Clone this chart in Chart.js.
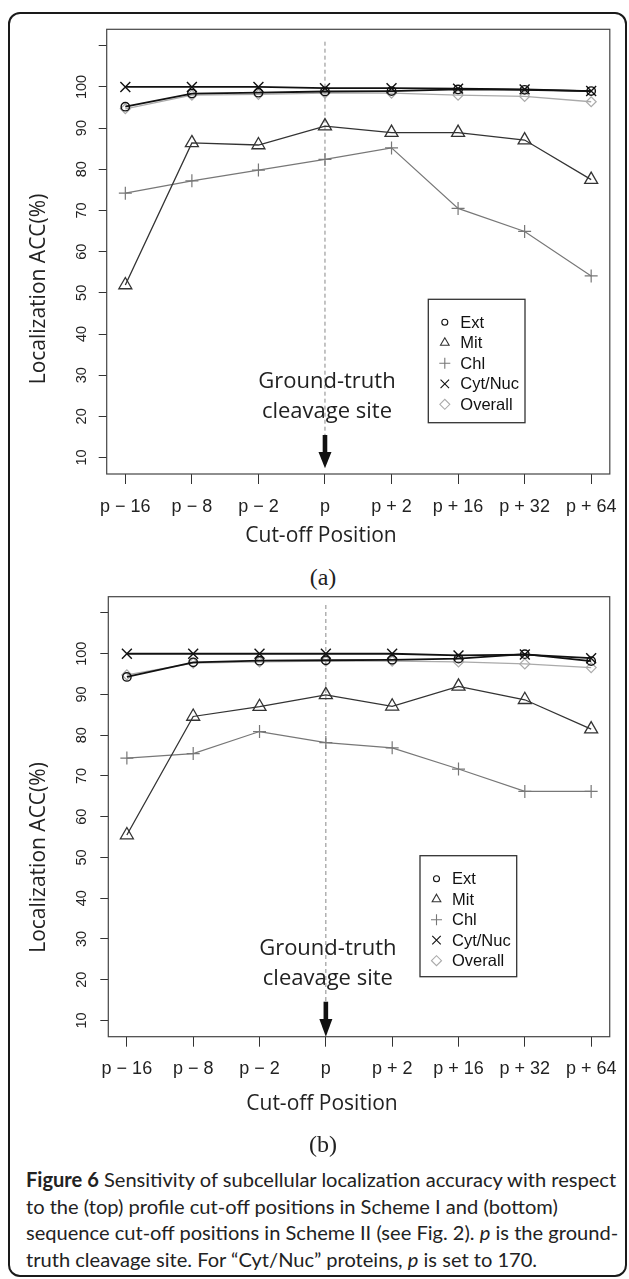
<!DOCTYPE html>
<html>
<head>
<meta charset="utf-8">
<title>Figure 6</title>
<script src="https://cdn.jsdelivr.net/npm/chart.js@4.4.1/dist/chart.umd.min.js"></script>
<style>
  html, body { margin: 0; padding: 0; background: #fff; }
  body { width: 629px; height: 1279px; position: relative; overflow: hidden; }
  #frame { position: absolute; left: 8px; top: 12px; width: 615px; height: 1261px;
           border: 2px solid #1a1a1a; border-radius: 12px; }
  canvas { position: absolute; left: 0; }
  #chartA { top: 0; }
  #chartB { top: 575px; }
  .panel { position: absolute; left: 293px; width: 60px; text-align: center;
           font-family: "Liberation Serif", "Times New Roman", serif; font-size: 24px;
           line-height: 28px; color: #222; }
  #caption { position: absolute; left: 26px; top: 1166px; width: 600px;
             font-family: Lato, "Open Sans", sans-serif; font-size: 18px;
             line-height: 26.7px; color: #222; }
  #caption .cl { white-space: nowrap; }
  #caption .cl span { display: inline-block; }
</style>
</head>
<body>
<div id="frame"></div>
<canvas id="chartA" width="629" height="560"></canvas>
<div class="panel" style="top:563px">(a)</div>
<canvas id="chartB" width="629" height="590"></canvas>
<div class="panel" style="top:1130px">(b)</div>
<div id="caption">
  <div class="cl"><span id="firstLine"><b>Figure 6</b> Sensitivity of subcellular localization accuracy with respect</span></div>
  <div class="cl">to the (top) profile cut-off positions in Scheme I and (bottom)</div>
  <div class="cl">sequence cut-off positions in Scheme II (see Fig. 2). <i>p</i> is the ground-</div>
  <div class="cl">truth cleavage site. For “Cyt/Nuc” proteins, <i>p</i> is set to 170.</div>
</div>

<script>
// cut-off positions on the x axis
const positions = ['p − 16', 'p − 8', 'p − 2', 'p', 'p + 2', 'p + 16', 'p + 32', 'p + 64'];
const yTickValues = [10, 20, 30, 40, 50, 60, 70, 80, 90, 100, 110];
const yTickLabels = ['10', '20', '30', '40', '50', '60', '70', '80', '90', '100', ''];
const seriesNames = ['Ext', 'Mit', 'Chl', 'Cyt/Nuc', 'Overall'];

// (a) profile cut-off, Scheme I
const extA     = [95.2, 98.4, 98.6, 98.9, 99.0, 99.4, 99.3, 99.0];
const mitA     = [51.9, 86.4, 85.9, 90.5, 88.9, 88.9, 87.1, 77.5];
const chlA     = [74.2, 77.2, 79.8, 82.4, 85.2, 70.5, 64.9, 54.1];
const cytA     = [100, 100, 100, 99.7, 99.7, 99.6, 99.4, 99.0];
const overallA = [94.7, 98.0, 98.2, 98.5, 98.5, 98.0, 97.7, 96.4];

// (b) sequence cut-off, Scheme II
const extB     = [94.3, 97.9, 98.3, 98.4, 98.5, 98.8, 99.9, 98.2];
const mitB     = [55.5, 84.6, 87.0, 89.9, 87.1, 92.0, 88.7, 81.5];
const chlB     = [74.4, 75.5, 80.9, 78.2, 76.9, 71.7, 66.2, 66.2];
const cytB     = [100, 100, 100, 100, 100, 99.6, 99.8, 98.9];
const overallB = [94.8, 97.7, 98.0, 98.2, 98.2, 98.0, 97.5, 96.6];

const seriesStyles = [
    { color: '#111', width: 1.8, point: 'circle',   radius: 4.2, pw: 1.4, legendRadius: 3 },
    { color: '#333', width: 1.3, point: 'triangle', radius: 7.5, pw: 1.3, legendRadius: 5 },
    { color: '#777', width: 1.2, point: 'cross',    radius: 6.5, pw: 1.2, legendRadius: 5.5 },
    { color: '#111', width: 1.8, point: 'crossRot', radius: 7,   pw: 1.4, legendRadius: 6 },
    { color: '#aaa', width: 1.3, point: 'rectRot',  radius: 5,   pw: 1.2, legendRadius: 5 }
];

const sansR = '"Liberation Sans", Arial, sans-serif';
const sansO = '"Open Sans", sans-serif';

// extra drawing: box, dashed marker line, rotated labels, arrow, legend
const figurePlugin = {
    id: 'figureExtras',
    beforeDatasetsDraw(chart, args, o) {
        const { ctx, scales: { x } } = chart;
        const px = x.getPixelForValue(3);
        ctx.save();
        ctx.strokeStyle = '#888';
        ctx.lineWidth = 1;
        ctx.setLineDash([4, 3]);
        ctx.beginPath();
        ctx.moveTo(px, o.dashTop);
        ctx.lineTo(px, o.arrowTop);
        ctx.stroke();
        ctx.restore();
    },
    afterDraw(chart, args, o) {
        const { ctx, chartArea: a, scales: { x, y } } = chart;
        ctx.save();

        // plot box
        ctx.strokeStyle = '#444';
        ctx.lineWidth = 1.2;
        ctx.strokeRect(a.left, a.top, a.right - a.left, a.bottom - a.top);

        // y tick labels, parallel to the axis
        ctx.fillStyle = '#222';
        ctx.font = '14.5px ' + sansR;
        ctx.textAlign = 'center';
        ctx.textBaseline = 'middle';
        yTickValues.forEach((v, i) => {
            if (!yTickLabels[i]) return;
            ctx.save();
            ctx.translate(o.yTickX, y.getPixelForValue(v));
            ctx.rotate(-Math.PI / 2);
            ctx.fillText(yTickLabels[i], 0, 0);
            ctx.restore();
        });

        // axis titles
        ctx.font = '21px ' + sansO;
        ctx.save();
        ctx.translate(o.yTitleX, o.yTitleY);
        ctx.rotate(-Math.PI / 2);
        ctx.fillText('Localization ACC(%)', 0, 0);
        ctx.restore();
        ctx.fillText('Cut-off Position', o.xTitleX, o.xTitleY);

        // cleavage site note and arrow
        const px = x.getPixelForValue(3);
        ctx.font = '22px ' + sansO;
        ctx.textBaseline = 'alphabetic';
        ctx.fillText('Ground-truth', px + 2, o.gtY1);
        ctx.fillText('cleavage site', px + 2, o.gtY2);
        ctx.fillStyle = '#111';
        ctx.fillRect(px - 2.3, o.arrowTop, 4.6, o.headTop - o.arrowTop);
        ctx.beginPath();
        ctx.moveTo(px - 6.5, o.headTop);
        ctx.lineTo(px + 6.5, o.headTop);
        ctx.lineTo(px, o.arrowTip);
        ctx.closePath();
        ctx.fill();

        // legend
        const lg = o.legend;
        ctx.fillStyle = '#fff';
        ctx.fillRect(lg.x, lg.y, lg.w, lg.h);
        ctx.strokeStyle = '#333';
        ctx.lineWidth = 1.3;
        ctx.strokeRect(lg.x, lg.y, lg.w, lg.h);
        ctx.font = '16.5px ' + sansR;
        ctx.textAlign = 'left';
        ctx.textBaseline = 'middle';
        seriesNames.forEach((name, k) => {
            const st = seriesStyles[k];
            const ly = lg.y + 23 + k * 20.5;
            ctx.strokeStyle = st.color;
            ctx.fillStyle = 'rgba(0,0,0,0)';
            ctx.lineWidth = 1.1;
            Chart.helpers.drawPoint(ctx, { pointStyle: st.point, radius: st.legendRadius, borderWidth: 1.1, rotation: 0 }, lg.x + 16.5, ly);
            ctx.fillStyle = '#111';
            ctx.fillText(name, lg.x + 32, ly + 1);
        });
        ctx.restore();
    }
};

function buildChart(canvasId, values, L) {
    const ctx = document.getElementById(canvasId).getContext('2d');
    const datasets = seriesNames.map((name, k) => {
        const st = seriesStyles[k];
        return {
            label: name,
            data: values[k].map((v, i) => ({ x: i, y: v })),
            borderColor: st.color,
            borderWidth: st.width,
            pointStyle: st.point,
            pointRadius: st.radius,
            pointBorderColor: st.color,
            pointBackgroundColor: 'rgba(0,0,0,0)',
            pointBorderWidth: st.pw,
            tension: 0,
            fill: false,
            clip: false
        };
    });

    new Chart(ctx, {
        type: 'line',
        data: { datasets: datasets },
        options: {
            responsive: false,
            animation: false,
            events: [],
            layout: {
                padding: { left: L.left - 8, right: 629 - L.right, top: L.top, bottom: L.H - L.bottom - 62 }
            },
            plugins: {
                legend: { display: false },
                tooltip: { enabled: false },
                figureExtras: L
            },
            scales: {
                x: {
                    type: 'linear',
                    min: -0.28,
                    max: 7.28,
                    afterBuildTicks: s => { s.ticks = positions.map((p, i) => ({ value: i })); },
                    afterFit: s => { s.height = 62; },
                    grid: { drawOnChartArea: false, drawTicks: true, tickLength: 10, color: '#333', lineWidth: 1 },
                    border: { display: false },
                    ticks: {
                        callback: v => positions[v],
                        autoSkip: false,
                        maxRotation: 0,
                        padding: 12,
                        color: '#222',
                        font: { family: sansR, size: 18 }
                    }
                },
                y: {
                    min: 6,
                    max: 114,
                    afterBuildTicks: s => { s.ticks = yTickValues.map(v => ({ value: v })); },
                    afterFit: s => { s.width = 8; },
                    grid: { drawOnChartArea: false, drawTicks: true, tickLength: 8, color: '#333', lineWidth: 1 },
                    border: { display: false },
                    ticks: { display: false }
                }
            }
        },
        plugins: [figurePlugin]
    });
}

// size the caption so its first line spans the text column, as in the figure
function fitCaption() {
    const cap = document.getElementById('caption');
    const w = document.getElementById('firstLine').getBoundingClientRect().width;
    cap.style.fontSize = (18 * 590 / w).toFixed(2) + 'px';
}

document.addEventListener('DOMContentLoaded', function () {
    fitCaption();
    buildChart('chartA', [extA, mitA, chlA, cytA, overallA], {
        left: 106.7, right: 614, top: 29.3, bottom: 474, H: 560,
        dashTop: 41.7, yTickX: 81.7, yTitleX: 39, yTitleY: 289,
        xTitleX: 321, xTitleY: 536.3,
        gtY1: 388.3, gtY2: 418.3, arrowTop: 435, headTop: 452, arrowTip: 468.3,
        legend: { x: 428.3, y: 299.3, w: 96.7, h: 123.4 }
    });
    buildChart('chartB', [extB, mitB, chlB, cytB, overallB], {
        left: 108.3, right: 613.5, top: 21.7, bottom: 461.7, H: 590,
        dashTop: 30, yTickX: 81.7, yTitleX: 39, yTitleY: 282.5,
        xTitleX: 322, xTitleY: 529,
        gtY1: 380, gtY2: 410, arrowTop: 426.7, headTop: 444, arrowTip: 461.7,
        legend: { x: 420, y: 280.7, w: 96.7, h: 121 }
    });
});
</script>
</body>
</html>
